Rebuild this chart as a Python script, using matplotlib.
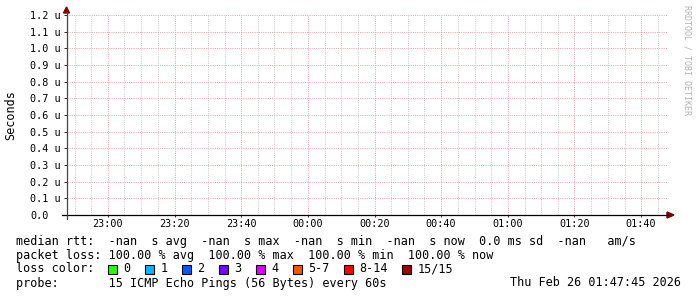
import datetime as dt
import matplotlib
matplotlib.use("Agg")
import matplotlib.pyplot as plt
import matplotlib.dates as mdates
from matplotlib.patches import Rectangle, Polygon
from matplotlib.lines import Line2D

W, H = 697, 297
MONO = "DejaVu Sans Mono"

# time window shown (3 hours up to the graph timestamp)
t_start = dt.datetime(2026, 2, 25, 22, 47, 45)
t_end = dt.datetime(2026, 2, 26, 1, 47, 45)

# y axis (seconds), all rtt values are NaN so nothing is drawn
y_ticks = [0.0, 0.1e-6, 0.2e-6, 0.3e-6, 0.4e-6, 0.5e-6, 0.6e-6,
           0.7e-6, 0.8e-6, 0.9e-6, 1.0e-6, 1.1e-6, 1.2e-6]
y_labels = ["0.0", "0.1 u", "0.2 u", "0.3 u", "0.4 u", "0.5 u", "0.6 u",
            "0.7 u", "0.8 u", "0.9 u", "1.0 u", "1.1 u", "1.2 u"]

loss_labels = ["0", "1", "2", "3", "4", "5-7", "8-14", "15/15"]
loss_colors = ["#26ff00", "#00b8ff", "#0059ff", "#7e00ff",
               "#dd00ff", "#ff5500", "#ff0000", "#a10000"]

rtt_line = "median rtt:  -nan  s avg  -nan  s max  -nan  s min  -nan  s now  0.0 ms sd  -nan   am/s"
loss_line = "packet loss: 100.00 % avg  100.00 % max  100.00 % min  100.00 % now"
probe_line = "probe:       15 ICMP Echo Pings (56 Bytes) every 60s"
stamp = "Thu Feb 26 01:47:45 2026"
watermark = "RRDTOOL / TOBI OETIKER"


def fx(px):
    return px / W


def fy(py):
    return 1 - py / H


def main():
    fig = plt.figure(figsize=(W / 100, H / 100), dpi=100, facecolor="white")
    ax = fig.add_axes([fx(67), fy(215), 600 / W, 200 / H])
    ax.set_facecolor("white")

    ax.set_xlim(t_start, t_end)
    ax.set_ylim(0, 1.2e-6)

    ax.xaxis.set_major_locator(mdates.MinuteLocator(byminute=range(0, 60, 20)))
    ax.xaxis.set_minor_locator(mdates.MinuteLocator(byminute=range(0, 60, 5)))
    ax.xaxis.set_major_formatter(mdates.DateFormatter("%H:%M"))
    ax.set_yticks(y_ticks)
    ax.set_yticklabels(y_labels)

    # dotted 1px on / 1px off grid, rrdtool style
    dots = (0, (1, 1.2))
    ax.grid(which="minor", axis="x", color="#cccccc", lw=0.72, linestyle=dots)
    ax.grid(which="major", axis="x", color="#eca4a4", lw=0.72, linestyle=dots)
    ax.grid(which="major", axis="y", color="#eca4a4", lw=0.72, linestyle=dots)
    ax.set_axisbelow(True)

    for s in ax.spines.values():
        s.set_visible(False)

    ax.tick_params(axis="y", which="major", length=2.2, width=0.72, color="#333333",
                   pad=24.4, labelsize=7.3, labelfontfamily=MONO)
    ax.tick_params(axis="x", which="major", length=1.5, width=0.72, color="#333333",
                   pad=1.6, labelsize=7.3, labelfontfamily=MONO)
    ax.tick_params(axis="x", which="minor", length=0)
    for lab in ax.get_yticklabels():
        lab.set_horizontalalignment("left")

    # axis lines with arrows
    fig.add_artist(Line2D([fx(62), fx(669)], [fy(215), fy(215)], color="black",
                          lw=0.9, transform=fig.transFigure))
    fig.add_artist(Line2D([fx(66.5), fx(66.5)], [fy(219), fy(12)], color="#444444",
                          lw=0.9, transform=fig.transFigure))
    fig.add_artist(Polygon([[fx(667), fy(212)], [fx(674), fy(215)], [fx(667), fy(218)]],
                           closed=True, color="#7f0000", transform=fig.transFigure))
    fig.add_artist(Polygon([[fx(63.5), fy(13)], [fx(66.5), fy(7)], [fx(69.5), fy(13)]],
                           closed=True, color="#7f0000", transform=fig.transFigure))

    fig.text(fx(11), fy(115), "Seconds", rotation=90, ha="center", va="center",
             fontsize=8.5, family=MONO)
    fig.text(fx(687), fy(60), watermark, rotation=270, ha="center", va="center",
             fontsize=6, family=MONO, color="#b4b4b4")

    # legend block
    fig.text(fx(16), fy(241), rtt_line, ha="left", va="center", fontsize=8.5, family=MONO)
    fig.text(fx(16), fy(255), loss_line, ha="left", va="center", fontsize=8.5, family=MONO)
    fig.text(fx(16), fy(269), "loss color:", ha="left", va="center", fontsize=8.5, family=MONO)
    lx = 123.3
    for lab, col in zip(loss_labels, loss_colors):
        fig.add_artist(Rectangle((fx(lx - 15.5), fy(273.8)), 9 / W, 9 / H,
                                 facecolor=col, edgecolor="black", lw=0.8,
                                 transform=fig.transFigure))
        fig.text(fx(lx), fy(269), lab, ha="left", va="center", fontsize=8.5, family=MONO)
        lx += len(lab) * 7.0 + 30
    fig.text(fx(16), fy(283), probe_line, ha="left", va="center", fontsize=8.5, family=MONO)
    fig.text(fx(681), fy(283), stamp, ha="right", va="center", fontsize=8.5, family=MONO)

    fig.savefig("out.png", dpi=100, facecolor="white")


if __name__ == "__main__":
    main()
